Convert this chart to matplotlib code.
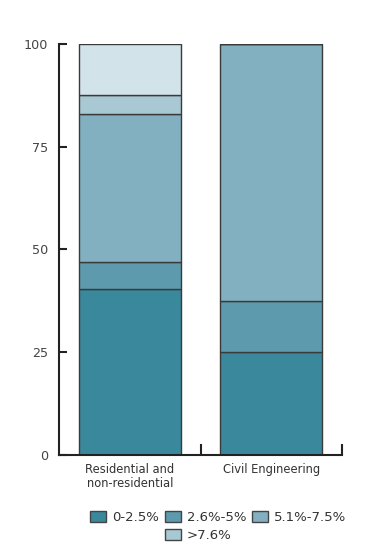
import matplotlib.pyplot as plt
from matplotlib.patches import Patch

categories = ['Residential and\nnon-residential', 'Civil Engineering']
bands = ['0-2.5%', '2.6%-5%', '5.1%-7.5%', '>7.6%', '']
values = [
    [40.5, 25.0],   # 0-2.5%
    [6.5, 12.5],    # 2.6%-5%
    [36.0, 62.5],   # 5.1%-7.5%
    [4.5, 0.0],     # >7.6%
    [12.5, 0.0],    # remainder (no legend entry)
]
colors = ['#3a889c', '#5e9aae', '#82b0c0', '#a8c8d4', '#d3e3ea']

plt.rcParams['font.family'] = ['DejaVu Sans']

fig = plt.figure(figsize=(3.78, 5.59), dpi=100)
ax = fig.add_axes([59 / 378, 1 - 455 / 559, 283 / 378, 411 / 559])

x = list(range(len(categories)))
bottom = [0.0] * len(categories)
for vals, c in zip(values, colors):
    ax.bar(x, vals, bottom=bottom, width=0.72, color=c, edgecolor='#3a3a3a', linewidth=1.0)
    bottom = [b + v for b, v in zip(bottom, vals)]

ax.set_xlim(-0.5, 1.5)
ax.set_ylim(0, 100)
ax.set_yticks([0, 25, 50, 75, 100])
ax.set_xticks(x)
ax.set_xticklabels(categories, fontsize=8.3, color='#333333', linespacing=1.1)
ax.set_xticks([0.5, 1.5], minor=True)
ax.tick_params(axis='x', which='major', length=0, pad=6)
ax.tick_params(axis='x', which='minor', direction='in', length=8, width=1.5, color='#222222')
ax.tick_params(axis='y', direction='in', length=6, width=1.5, color='#222222',
               labelsize=9.2, labelcolor='#444444', pad=8)

for s in ['top', 'right']:
    ax.spines[s].set_visible(False)
for s in ['left', 'bottom']:
    ax.spines[s].set_linewidth(1.5)
    ax.spines[s].set_color('#222222')

h = [Patch(facecolor=c, edgecolor='#444444', linewidth=1.0) for c in colors[:4]]
blank = Patch(facecolor='none', edgecolor='none')
handles = [h[0], blank, h[1], h[3], h[2]]
labels = [bands[0], '', bands[1], bands[3], bands[2]]
fig.legend(handles, labels, ncol=3, loc='center', bbox_to_anchor=(0.577, 0.058),
           frameon=False, fontsize=9.5, handlelength=1.2, handleheight=0.85,
           handletextpad=0.45, columnspacing=0.45, labelspacing=0.4,
           labelcolor='#333333')

fig.savefig('out.png', dpi=100)
